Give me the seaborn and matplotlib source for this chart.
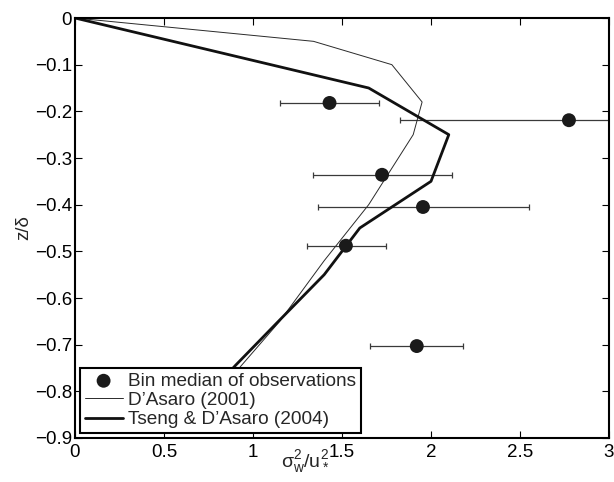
import numpy as np
import pandas as pd
import matplotlib
matplotlib.use('Agg')
import matplotlib.pyplot as plt
import seaborn as sns

# bin medians of observations (x = sigma_w^2/u*^2, y = z/delta)
obs_x = [1.43, 2.775, 1.725, 1.955, 1.522, 1.92]
obs_y = [-0.182, -0.219, -0.336, -0.405, -0.488, -0.703]
obs_lo = [1.15, 1.826, 1.337, 1.365, 1.303, 1.657]
obs_hi = [1.71, 3.30, 2.118, 2.55, 1.747, 2.18]

# D'Asaro (2001)
dasaro_x = [0.0, 1.34, 1.78, 1.95, 1.90, 1.65, 1.40, 1.15, 0.90, 0.62]
dasaro_y = [0.0, -0.05, -0.10, -0.18, -0.25, -0.40, -0.52, -0.65, -0.76, -0.88]

# Tseng & D'Asaro (2004)
tseng_x = [0.0, 1.65, 2.10, 2.00, 1.60, 1.40, 1.13, 0.90, 0.65]
tseng_y = [0.0, -0.15, -0.25, -0.35, -0.45, -0.55, -0.655, -0.745, -0.85]

sns.set_style('ticks')
plt.rcParams['font.family'] = ['Liberation Sans', 'DejaVu Sans']
plt.rcParams['mathtext.fontset'] = 'custom'
plt.rcParams['mathtext.rm'] = 'Liberation Sans'
plt.rcParams['mathtext.it'] = 'Liberation Sans'

fig = plt.figure(figsize=(6.14, 4.82), dpi=100)
ax = fig.add_axes([75 / 614, 1 - 438 / 482, 534 / 614, 420 / 482])

lines = pd.concat([
    pd.DataFrame({'x': dasaro_x, 'y': dasaro_y, 'src': "D\u2019Asaro (2001)"}),
    pd.DataFrame({'x': tseng_x, 'y': tseng_y, 'src': "Tseng & D\u2019Asaro (2004)"}),
])

obs = pd.DataFrame({'x': obs_x, 'y': obs_y, 'lo': obs_lo, 'hi': obs_hi})

ax.errorbar(obs['x'], obs['y'],
            xerr=[obs['x'] - obs['lo'], obs['hi'] - obs['x']],
            fmt='none', ecolor='#3a3a3a', elinewidth=0.9, capsize=2.5, capthick=0.9, zorder=2)
sns.scatterplot(data=obs, x='x', y='y', color='#1a1a1a', s=100, edgecolor='none',
                label='Bin median of observations', ax=ax, zorder=3)
sns.lineplot(data=lines, x='x', y='y', hue='src', size='src',
             palette=['#2a2a2a', '#111111'], sizes=[0.7, 2.0],
             sort=False, estimator=None, ax=ax, zorder=2)

ax.set_xlim(0, 3)
ax.set_ylim(-0.9, 0)
ax.set_xticks(np.arange(0, 3.01, 0.5))
ax.set_xticklabels(['0', '0.5', '1', '1.5', '2', '2.5', '3'])
ax.set_yticks(np.arange(-0.9, 0.01, 0.1))
ax.set_yticklabels(['\u22120.9', '\u22120.8', '\u22120.7', '\u22120.6', '\u22120.5',
                    '\u22120.4', '\u22120.3', '\u22120.2', '\u22120.1', '0'])
ax.tick_params(direction='in', length=5, width=0.8, top=True, right=True,
               labelsize=13.5, colors='black')
ax.tick_params(axis='y', pad=2)
ax.tick_params(axis='x', pad=4)
for sp in ax.spines.values():
    sp.set_linewidth(1.5)
    sp.set_color('black')

ax.set_xlabel(r'$\mathrm{\sigma_w^2/u_*^2}$', fontsize=14)
ax.xaxis.set_label_coords((305 - 75) / 534, -0.025)
ax.set_ylabel('z/\u03b4', fontsize=13.5, labelpad=2)

handles, labels = ax.get_legend_handles_labels()
keep = [labels.index('Bin median of observations'),
        labels.index("D\u2019Asaro (2001)"),
        labels.index("Tseng & D\u2019Asaro (2004)")]
leg = ax.legend([handles[i] for i in keep], [labels[i] for i in keep],
                loc='lower left', bbox_to_anchor=(0.009, 0.012), borderaxespad=0,
                fontsize=13.7, frameon=True, fancybox=False, framealpha=1,
                edgecolor='black', handlelength=2.0, handletextpad=0.3,
                labelspacing=0.1, borderpad=0.25)
leg.get_frame().set_linewidth(1.5)

fig.savefig('out.png', dpi=100)
